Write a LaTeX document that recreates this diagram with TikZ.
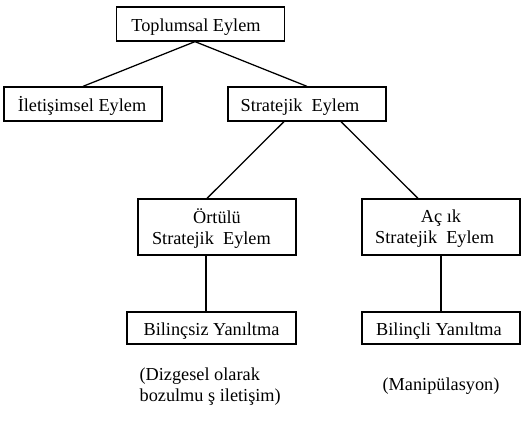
\documentclass[tikz,border=0pt]{standalone}
\usepackage{fontspec}
\setmainfont{Liberation Serif}

\begin{document}
\begin{tikzpicture}[line width=0.9pt,
    every node/.style={font=\fontsize{13}{15}\selectfont},
    box/.style={draw, rectangle, align=center, inner sep=0pt, minimum width=3.95cm, minimum height=0.85cm,
      text height=0.45cm, text depth=0.075cm},
    twobox/.style={box, minimum height=1.4cm, text height=, text depth=0pt}]
        \useasboundingbox (0,0) rectangle (13.15,-10.575);

        \node[box, minimum width=4.2cm] (toplumsal) at (5.0125,-0.6) {Toplumsal Eylem\kern0.225cm};
        \node[box] (iletisimsel) at (2.075,-2.6) {İletişimsel Eylem\kern0.05cm};
        \node[box] (stratejik) at (7.675,-2.6) {Stratejik~ Eylem\kern0.35cm};
        \node[twobox] (ortulu) at (5.425,-5.675) {Örtülü\\Stratejik~ Eylem\kern0.28cm};
        \node[twobox] (acik) at (11.025,-5.675) {Aç ık\\Stratejik~ Eylem\kern0.32cm};
        \node[box, minimum width=4.225cm, minimum height=0.8cm] (bilincsiz) at (5.2875,-8.2) {Bilinçsiz Yanıltma};
        \node[box, minimum height=0.8cm] (bilincli) at (11.025,-8.2) {Bilinçli Yanıltma\kern0.1cm};
        \node[align=left, anchor=north west, inner sep=0pt] (dizgesel) at (3.475,-9.18) {(Dizgesel olarak\\bozulmu ş iletişim)};
        \node[anchor=base, inner sep=0pt] (manipulasyon) at (11.025,-9.775) {(Manipülasyon)};

        \draw ([xshift=-0.1375cm]toplumsal.south) -- (iletisimsel.north);
        \draw ([xshift=-0.1375cm]toplumsal.south) -- (stratejik.north);
        \draw ([xshift=-0.575cm]stratejik.south) -- ([xshift=-0.25cm]ortulu.north);
        \draw ([xshift=0.85cm]stratejik.south) -- ([xshift=-0.575cm]acik.north);
        \draw ([xshift=-0.275cm]ortulu.south) -- ([xshift=-0.1375cm]bilincsiz.north);
        \draw (acik.south) -- (bilincli.north);
      \end{tikzpicture}
\end{document}
